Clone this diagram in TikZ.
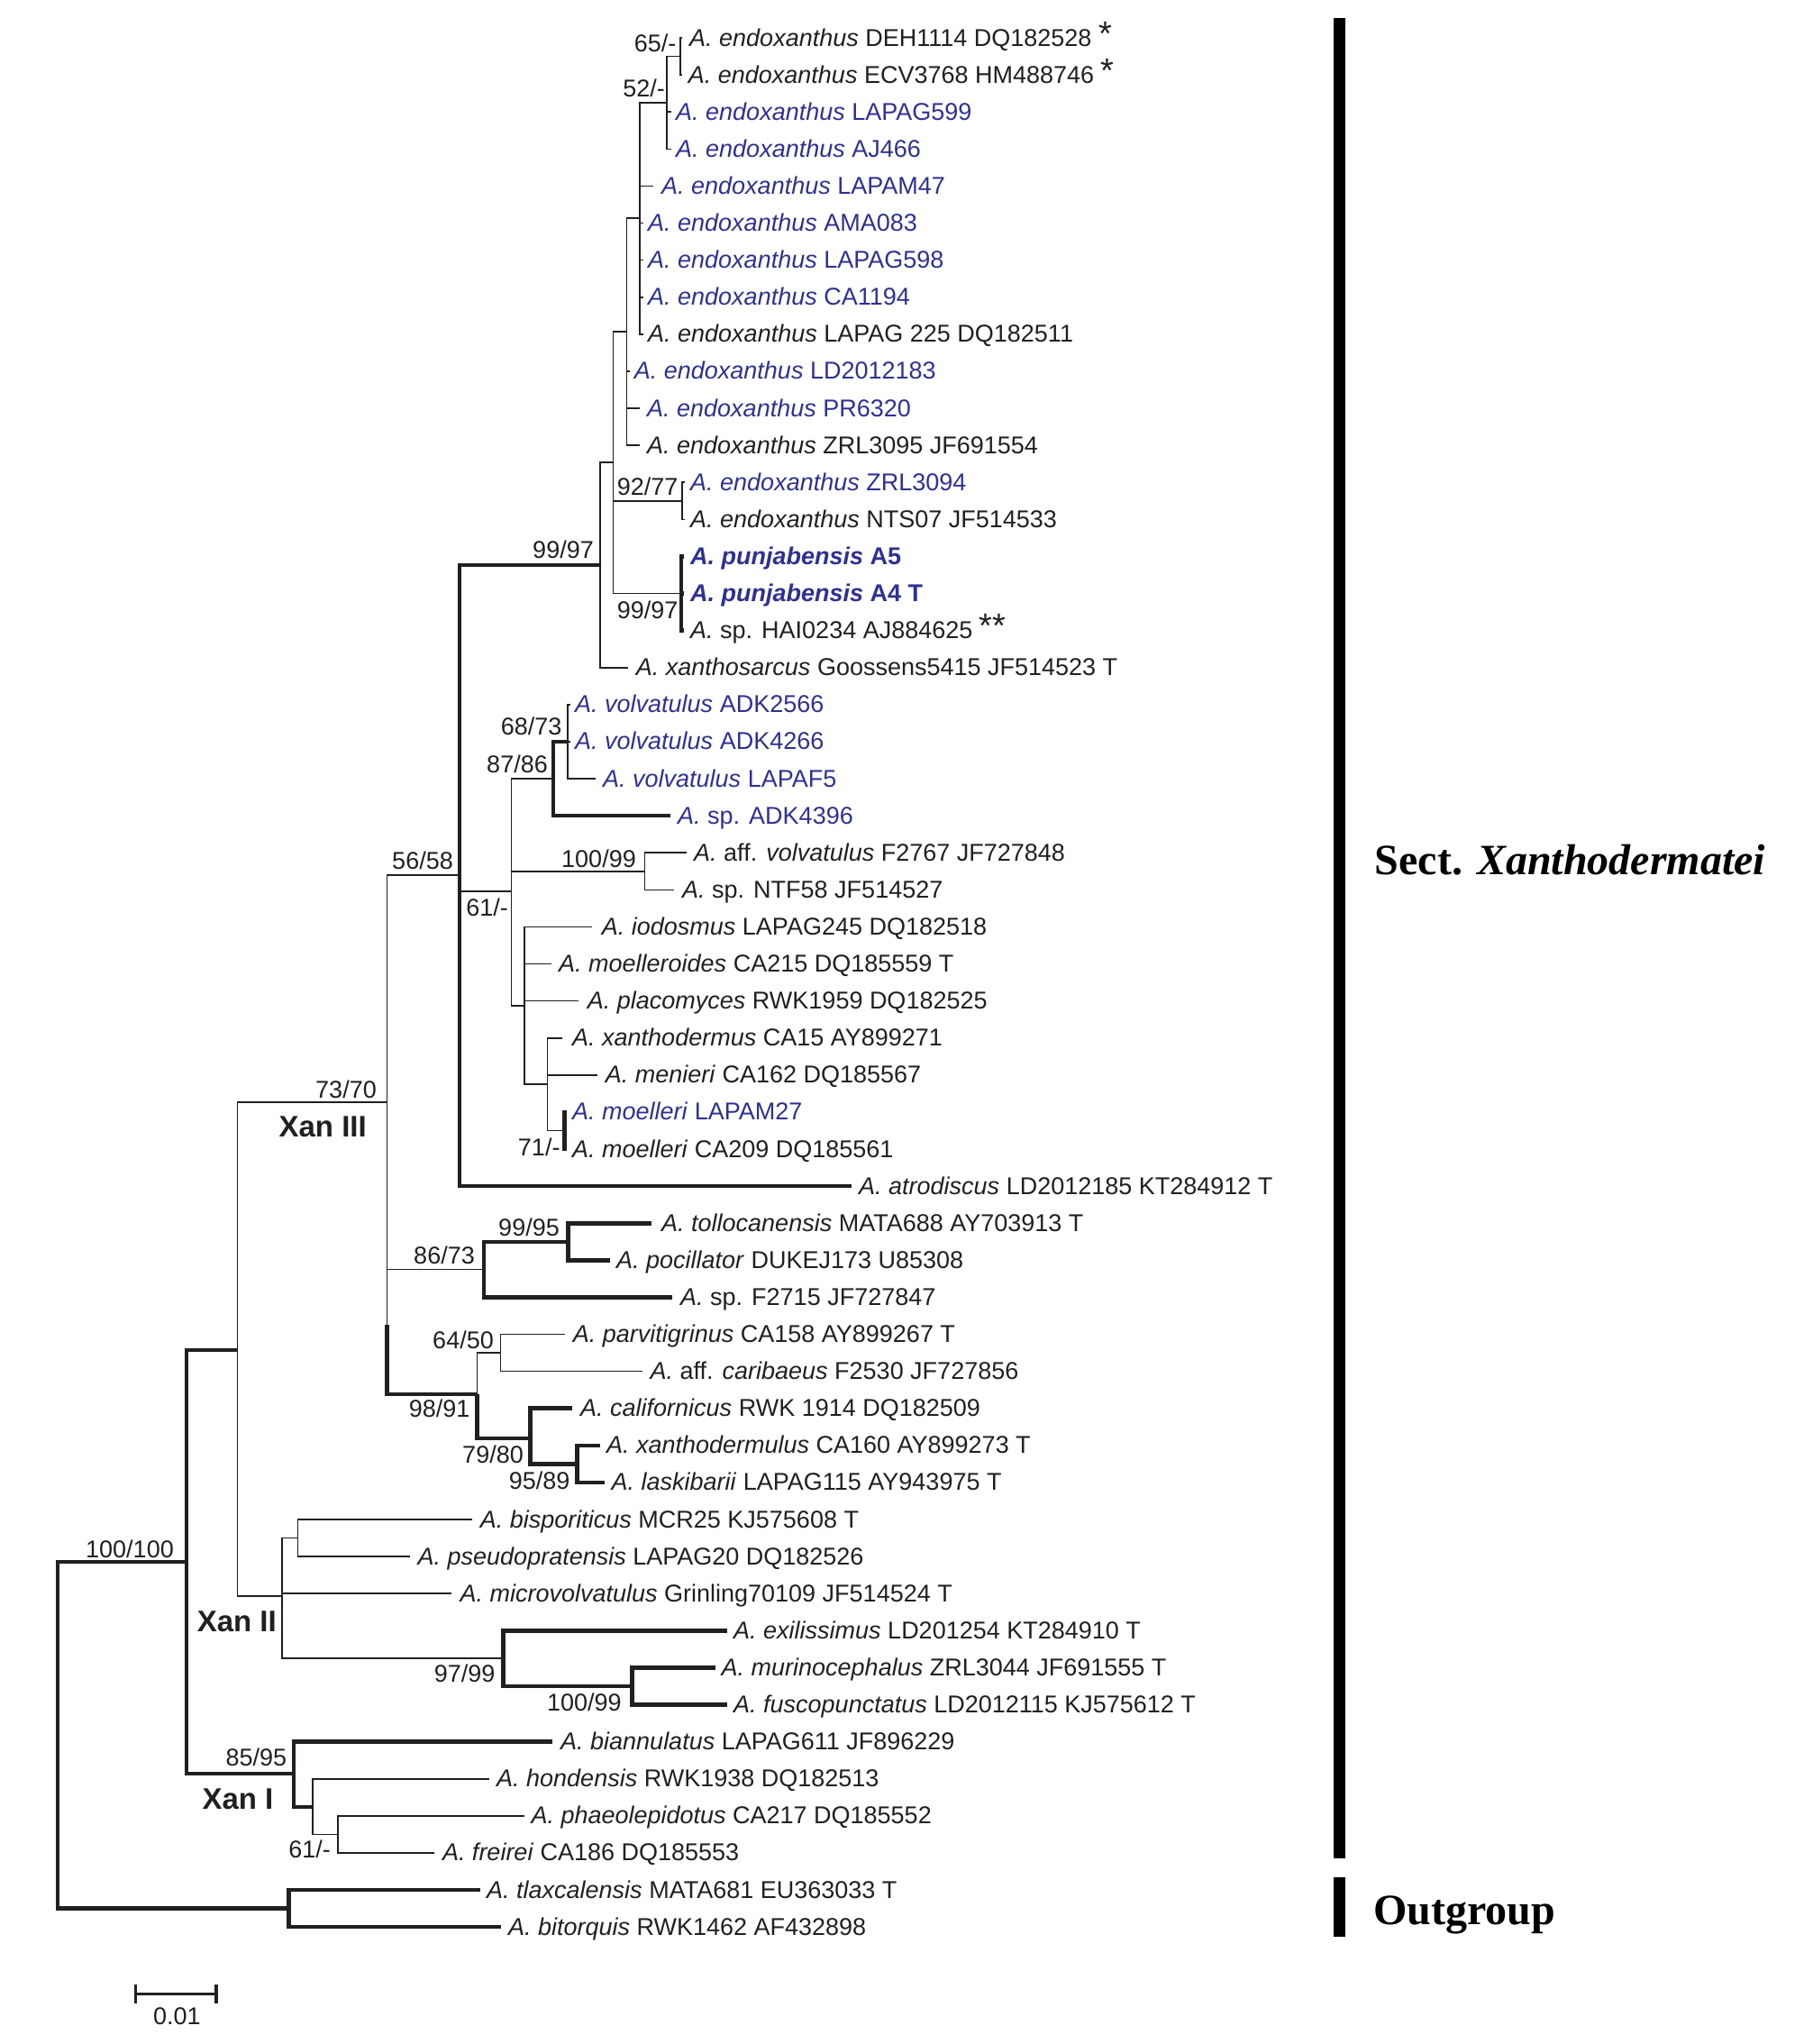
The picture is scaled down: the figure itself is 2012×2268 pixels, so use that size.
\documentclass[tikz,border=0pt]{standalone}
\usepackage{fontspec}
\setmainfont{Liberation Sans}
\newfontfamily\sectfont{Liberation Serif}
\definecolor{ink}{HTML}{231F20}
\definecolor{tipblue}{HTML}{2E3192}
\newcommand\mytip[6]{\coordinate (t#1) at (#2,#3);\node[#5] (l#1) at (#4,#3+9) {#6};}
\newcommand\myast{{\fontsize{38}{38}\selectfont\raisebox{1pt}{*}}}
\begin{document}
\begin{tikzpicture}[x=1pt,y=-1pt,
  br/.style={draw=ink,line width=1.6pt},
  bt/.style={draw=ink,line width=4.6pt},
  tip/.style={anchor=base west,inner sep=0pt,text=ink,font=\fontsize{27}{32}\selectfont},
  btip/.style={tip,text=tipblue},
  bbtip/.style={btip,font=\fontsize{27}{32}\selectfont\bfseries},
  supp/.style={anchor=base east,inner sep=0pt,text=ink,font=\fontsize{27}{32}\selectfont},
  clade/.style={anchor=base east,inner sep=0pt,text=ink,font=\fontsize{33}{38}\selectfont\bfseries},
  sect/.style={anchor=base west,inner sep=0pt,text=black,font=\sectfont\fontsize{48}{56}\selectfont\bfseries},
]
\useasboundingbox (0,0) rectangle (2012,2268);
% ---------- tips ----------
\mytip{1}{757}{42}{765}{tip}{\textit{A. endoxanthus} DEH1114 DQ182528 \myast}
\mytip{2}{757}{83.1}{763.7}{tip}{\textit{A. endoxanthus} ECV3768 HM488746 \myast}
\mytip{3}{745}{124.2}{750}{btip}{\textit{A. endoxanthus} LAPAG599}
\mytip{4}{745}{165.3}{750}{btip}{\textit{A. endoxanthus} AJ466}
\mytip{5}{725}{206.4}{734}{btip}{\textit{A. endoxanthus} LAPAM47}
\mytip{6}{714}{247.5}{719}{btip}{\textit{A. endoxanthus} AMA083}
\mytip{7}{714}{288.6}{719}{btip}{\textit{A. endoxanthus} LAPAG598}
\mytip{8}{714}{329.7}{719}{btip}{\textit{A. endoxanthus} CA1194}
\mytip{9}{714}{370.8}{719}{tip}{\textit{A. endoxanthus} LAPAG 225 DQ182511}
\mytip{10}{699}{411.9}{703.7}{btip}{\textit{A. endoxanthus} LD2012183}
\mytip{11}{710}{453}{718}{btip}{\textit{A. endoxanthus} PR6320}
\mytip{12}{710}{494.1}{718}{tip}{\textit{A. endoxanthus} ZRL3095 JF691554}
\mytip{13}{760}{535.2}{766}{btip}{\textit{A. endoxanthus} ZRL3094}
\mytip{14}{760}{576.3}{766}{tip}{\textit{A. endoxanthus} NTS07 JF514533}
\mytip{15}{759}{617.4}{766}{bbtip}{\textit{A. punjabensis} A5}
\mytip{16}{759}{658.5}{766}{bbtip}{\textit{A. punjabensis} A4 T}
\mytip{17}{759}{699.6}{766}{tip}{\textit{A.} sp. HAI0234 AJ884625 \myast\myast}
\mytip{18}{696.7}{740.7}{705.7}{tip}{\textit{A. xanthosarcus} Goossens5415 JF514523 T}
\mytip{19}{633}{781.8}{638}{btip}{\textit{A. volvatulus} ADK2566}
\mytip{20}{633}{822.9}{638}{btip}{\textit{A. volvatulus} ADK4266}
\mytip{21}{661}{864}{669}{btip}{\textit{A. volvatulus} LAPAF5}
\mytip{22}{744}{905.1}{752}{btip}{\textit{A.} sp. ADK4396}
\mytip{23}{761.5}{946.2}{770}{tip}{\textit{A.} aff. \textit{volvatulus} F2767 JF727848}
\mytip{24}{748}{987.3}{757}{tip}{\textit{A.} sp. NTF58 JF514527}
\mytip{25}{657}{1028.4}{667.7}{tip}{\textit{A. iodosmus} LAPAG245 DQ182518}
\mytip{26}{612}{1069.5}{620}{tip}{\textit{A. moelleroides} CA215 DQ185559 T}
\mytip{27}{642}{1110.6}{651.7}{tip}{\textit{A. placomyces} RWK1959 DQ182525}
\mytip{28}{624}{1151.7}{635}{tip}{\textit{A. xanthodermus} CA15 AY899271}
\mytip{29}{663.3}{1192.8}{671.7}{tip}{\textit{A. menieri} CA162 DQ185567}
\mytip{30}{629}{1233.9}{635}{btip}{\textit{A. moelleri} LAPAM27}
\mytip{31}{629}{1275}{635}{tip}{\textit{A. moelleri} CA209 DQ185561}
\mytip{32}{945.3}{1316.1}{953}{tip}{\textit{A. atrodiscus} LD2012185 KT284912 T}
\mytip{33}{722.5}{1357.2}{734}{tip}{\textit{A. tollocanensis} MATA688 AY703913 T}
\mytip{34}{676.6}{1398.3}{684}{tip}{\textit{A. pocillator} DUKEJ173 U85308}
\mytip{35}{745.5}{1439.4}{755}{tip}{\textit{A.} sp. F2715 JF727847}
\mytip{36}{626.8}{1480.5}{635.6}{tip}{\textit{A. parvitigrinus} CA158 AY899267 T}
\mytip{37}{713}{1521.6}{721.4}{tip}{\textit{A.} aff. \textit{caribaeus} F2530 JF727856}
\mytip{38}{634.5}{1562.7}{644}{tip}{\textit{A. californicus} RWK 1914 DQ182509}
\mytip{39}{666.3}{1603.8}{672.8}{tip}{\textit{A. xanthodermulus} CA160 AY899273 T}
\mytip{40}{671}{1644.9}{678.5}{tip}{\textit{A. laskibarii} LAPAG115 AY943975 T}
\mytip{41}{523.8}{1686}{532.7}{tip}{\textit{A. bisporiticus} MCR25 KJ575608 T}
\mytip{42}{454.5}{1727.1}{463.5}{tip}{\textit{A. pseudopratensis} LAPAG20 DQ182526}
\mytip{43}{500.5}{1768.2}{510.4}{tip}{\textit{A. microvolvatulus} Grinling70109 JF514524 T}
\mytip{44}{807.2}{1809.3}{814}{tip}{\textit{A. exilissimus} LD201254 KT284910 T}
\mytip{45}{793.8}{1850.4}{800.5}{tip}{\textit{A. murinocephalus} ZRL3044 JF691555 T}
\mytip{46}{807}{1891.5}{814}{tip}{\textit{A. fuscopunctatus} LD2012115 KJ575612 T}
\mytip{47}{613}{1932.6}{622}{tip}{\textit{A. biannulatus} LAPAG611 JF896229}
\mytip{48}{543.4}{1973.7}{551}{tip}{\textit{A. hondensis} RWK1938 DQ182513}
\mytip{49}{581.6}{2014.8}{589.3}{tip}{\textit{A. phaeolepidotus} CA217 DQ185552}
\mytip{50}{482}{2055.9}{490.8}{tip}{\textit{A. freirei} CA186 DQ185553}
\mytip{51}{533}{2097}{540}{tip}{\textit{A. tlaxcalensis} MATA681 EU363033 T}
\mytip{52}{556}{2138.1}{563.8}{tip}{\textit{A. bitorquis} RWK1462 AF432898}
% ---------- internal nodes ----------
\coordinate (nA) at (754.7,62.5);
\coordinate (nB) at (740,114);
\coordinate (nC) at (710,242);
\coordinate (nD) at (695.5,368);
\coordinate (nE) at (680.4,513);
\coordinate (nF) at (756.7,555.8);
\coordinate (nG) at (756,658.5);
\coordinate (nH) at (665.7,627);
\coordinate (nI) at (510,971);
\coordinate (nJ) at (567.4,989);
\coordinate (nL) at (614,864);
\coordinate (nP) at (630,822.9);
\coordinate (nM) at (715.5,966.8);
\coordinate (nN) at (581.7,1116);
\coordinate (nQ) at (607.3,1203);
\coordinate (nR) at (626.7,1254.5);
\coordinate (nK) at (429.5,1223);
\coordinate (nKy) at (429.5,1470);
\coordinate (nW) at (537,1408.5);
\coordinate (nX) at (630.7,1377.8);
\coordinate (nY) at (529.3,1547);
\coordinate (nAB) at (555.3,1501);
\coordinate (nZ) at (588.6,1596);
\coordinate (nAA) at (640.2,1624.5);
\coordinate (nS) at (263.5,1498);
\coordinate (nU) at (313,1771);
\coordinate (nV) at (330.4,1706.5);
\coordinate (nAC) at (558.6,1840);
\coordinate (nAD) at (701.4,1871);
\coordinate (nT) at (207,1733);
\coordinate (nAE) at (326,1968);
\coordinate (nAF) at (347,2005);
\coordinate (nAG) at (375,2035.4);
\coordinate (nRoot) at (64,1925);
\coordinate (nAH) at (320.4,2117.5);
% ---------- branches ----------
\draw[br] (nA) |- (t1) (nA) |- (t2);
\draw[br] (nB) |- (nA) (nB) |- (t3) (nB) |- (t4);
\draw[br] (nC) |- (nB) (nC) |- (t5) (nC) |- (t6) (nC) |- (t7) (nC) |- (t8) (nC) |- (t9);
\draw[br] (nD) |- (nC) (nD) |- (t10) (nD) |- (t11) (nD) |- (t12);
\draw[br] (nE) |- (nD) (nE) |- (nF) (nE) |- (nG);
\draw[br] (nF) |- (t13) (nF) |- (t14);
\draw[bt] (nG) |- (t15) (nG) |- (t16) (nG) |- (t17);
\draw[br] (nH) |- (nE) (nH) |- (t18);
\draw[br] (nI) |- (nJ);
\draw[bt] (nI) |- (nH) (nI) |- (t32);
\draw[br] (nJ) |- (nL) (nJ) |- (nM) (nJ) |- (nN);
\draw[bt] (nL) |- (nP) (nL) |- (t22);
\draw[br] (nP) |- (t19) (nP) |- (t20) (nP) |- (t21);
\draw[br] (nM) |- (t23) (nM) |- (t24);
\draw[br] (nN) |- (t25) (nN) |- (t26) (nN) |- (t27) (nN) |- (nQ);
\draw[br] (nQ) |- (t28) (nQ) |- (t29) (nQ) |- (nR);
\draw[bt] (nR) |- (t30) (nR) |- (t31);
\draw[br] (nK) |- (nI) (nK) |- (nW) (nK) -- (nKy);
\draw[bt] (nKy) |- (nY);
\draw[bt] (nW) |- (nX) (nW) |- (t35);
\draw[bt] (nX) |- (t33) (nX) |- (t34);
\draw[br] (nY) |- (nAB);
\draw[bt] (nY) |- (nZ);
\draw[br] (nAB) |- (t36) (nAB) |- (t37);
\draw[bt] (nZ) |- (t38) (nZ) |- (nAA);
\draw[bt] (nAA) |- (t39) (nAA) |- (t40);
\draw[br] (nS) |- (nK) (nS) |- (nU);
\draw[br] (nU) |- (nV) (nU) |- (t43) (nU) |- (nAC);
\draw[br] (nV) |- (t41) (nV) |- (t42);
\draw[bt] (nAC) |- (t44) (nAC) |- (nAD);
\draw[bt] (nAD) |- (t45) (nAD) |- (t46);
\draw[bt] (nT) |- (nS) (nT) |- (nAE);
\draw[bt] (nAE) |- (t47) (nAE) |- (nAF);
\draw[br] (nAF) |- (t48) (nAF) |- (nAG);
\draw[br] (nAG) |- (t49) (nAG) |- (t50);
\draw[bt] (nRoot) |- (nT) (nRoot) |- (nAH);
\draw[bt] (nAH) |- (t51) (nAH) |- (t52);
% ---------- support values ----------
\node[supp] (s1) at (750.6,57.5) {65/-};
\node[supp] (s2) at (738,107.5) {52/-};
\node[supp] (s3) at (752.6,549.5) {92/77};
\node[supp] (s4) at (752.6,686.5) {99/97};
\node[supp] (s5) at (659,619.5) {99/97};
\node[supp] (s6) at (503,964.5) {56/58};
\node[supp] (s7) at (623.7,815.5) {68/73};
\node[supp] (s8) at (608,857.5) {87/86};
\node[supp] (s9) at (706,962.5) {100/99};
\node[supp] (s10) at (564,1016.5) {61/-};
\node[supp] (s11) at (621.7,1282) {71/-};
\node[supp] (s12) at (418,1218) {73/70};
\node[clade] (c3) at (407,1261) {Xan III};
\node[supp] (s13) at (621,1371) {99/95};
\node[supp] (s14) at (527,1402.5) {86/73};
\node[supp] (s15) at (548,1496) {64/50};
\node[supp] (s16) at (521.6,1572.5) {98/91};
\node[supp] (s17) at (581,1623.5) {79/80};
\node[supp] (s18) at (632.6,1652.8) {95/89};
\node[supp] (s19) at (193,1728.5) {100/100};
\node[clade] (c2) at (307,1810) {Xan II};
\node[supp] (s20) at (549.6,1866) {97/99};
\node[supp] (s21) at (689.8,1898) {100/99};
\node[supp] (s22) at (318.4,1959.5) {85/95};
\node[clade] (c1) at (303.6,2007) {Xan I};
\node[supp] (s23) at (367,2061) {61/-};
% ---------- scale bar ----------
\coordinate (sbL) at (150.5,2212.7);
\coordinate (sbR) at (239.8,2212.7);
\draw[draw=ink,line width=3.5pt] (sbL) -- (sbR);
\draw[draw=ink,line width=3.5pt] (150.5,2202) -- (150.5,2223) (239.8,2202) -- (239.8,2223);
\node[anchor=base,inner sep=0pt,text=ink,font=\fontsize{27}{32}\selectfont] (sbt) at (196.4,2246) {0.01};
% ---------- section bars ----------
\fill[black] (1480,20) rectangle (1492.5,2061.5);
\fill[black] (1480,2083) rectangle (1492.5,2149);
\node[sect] (sx) at (1525.7,970) {Sect. \textit{Xanthodermatei}};
\node[sect] (og) at (1524,2135) {Outgroup};
\end{tikzpicture}
\end{document}
